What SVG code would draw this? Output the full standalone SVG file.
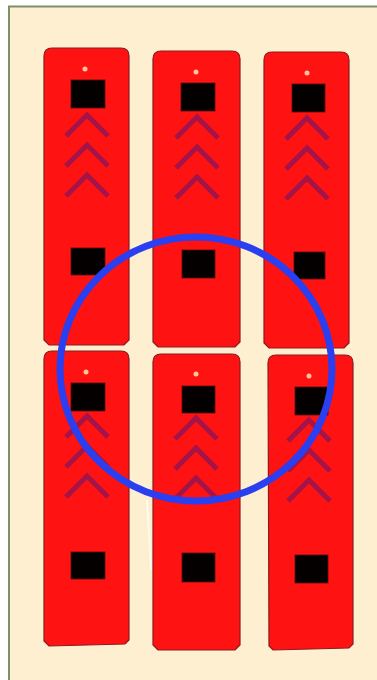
<svg xmlns="http://www.w3.org/2000/svg" width="377" height="680" viewBox="0 0 377 680">
<defs>
<style>
.tile{fill:#fe1212;stroke:#8c1a1f;stroke-width:1.2}
.sq{fill:#050000;stroke:#5a0a0a;stroke-width:0.8}
.dot{fill:#ffc59a}
.chev{fill:none;stroke:#8f1558;stroke-width:5;opacity:0.8}
.ring{fill:none;stroke:#2a3ff0;stroke-width:7}
</style>
<polyline id="chev" class="chev" points="-21,21 0,0 21,21"/>
</defs>
<rect x="9" y="6.5" width="380" height="690" fill="#fdefd0" stroke="#7d9068" stroke-width="2"/>
<g id="tile1">
<path class="tile" d="M44,56 Q44,48 52,48 L121,48 Q129,48 129,56 L129,340 L124,345 L49,345 L44,340 Z"/>
<circle class="dot" cx="85" cy="69" r="2.5"/>
<rect class="sq" x="71" y="80" width="34" height="28"/>
<use href="#chev" x="87" y="115"/><use href="#chev" x="87" y="145"/><use href="#chev" x="87" y="175"/>
<rect class="sq" x="71" y="248" width="34" height="27"/>
</g>
<g id="tile2">
<path class="tile" d="M153,59 Q153,51 161,51 L232,51 Q240,51 240,59 L240,342 L235,347 L158,347 L153,342 Z"/>
<circle class="dot" cx="196" cy="72" r="2.5"/>
<rect class="sq" x="181" y="83" width="34" height="28"/>
<use href="#chev" x="197" y="117"/><use href="#chev" x="197" y="147"/><use href="#chev" x="197" y="177"/>
<rect class="sq" x="182" y="250" width="33" height="28"/>
</g>
<g id="tile3">
<path class="tile" d="M264,60 Q264,52 272,52 L341,52 Q349,52 349,60 L349,343 L344,348 L269,348 L264,343 Z"/>
<circle class="dot" cx="307" cy="73" r="2.5"/>
<rect class="sq" x="292" y="84" width="33" height="28"/>
<use href="#chev" x="307" y="118"/><use href="#chev" x="307" y="148"/><use href="#chev" x="307" y="178"/>
<rect class="sq" x="294" y="252" width="31" height="27"/>
</g>
<g id="tile4">
<path class="tile" d="M44,359 Q44,351 52,351 L121,351 Q129,351 129,359 L129,640 L125,644 L49,646 L44,641 Z"/>
<circle class="dot" cx="86" cy="372" r="2.5"/>
<rect class="sq" x="71" y="383" width="34" height="28"/>
<use href="#chev" x="87" y="416"/><use href="#chev" x="87" y="446"/><use href="#chev" x="87" y="476"/>
<rect class="sq" x="71" y="552" width="34" height="27"/>
</g>
<g id="tile5">
<path class="tile" d="M153,362 Q153,354 161,354 L232,354 Q240,354 240,362 L240,645 L235,650 L158,650 L153,645 Z"/>
<circle class="dot" cx="196" cy="374" r="2.5"/>
<rect class="sq" x="182" y="386" width="33" height="27"/>
<use href="#chev" x="196" y="418"/><use href="#chev" x="196" y="448"/><use href="#chev" x="196" y="478"/>
<rect class="sq" x="182" y="553" width="33" height="29"/>
</g>
<g id="tile6">
<path class="tile" d="M268,363 Q268,355 276,355 L345,355 Q353,355 353,363 L353,644 L349,648 L273,650 L269,646 Z"/>
<circle class="dot" cx="309" cy="376" r="2.5"/>
<rect class="sq" x="295" y="387" width="33" height="28"/>
<use href="#chev" x="309" y="420"/><use href="#chev" x="309" y="450"/><use href="#chev" x="309" y="480"/>
<rect class="sq" x="295" y="555" width="33" height="28"/>
</g>
<line x1="147" y1="500" x2="151" y2="570" stroke="#ffffff" stroke-width="1.5" opacity="0.8"/>
<g id="connectors">
<ellipse class="ring" cx="196" cy="369" rx="136" ry="132"/>
</g>
</svg>
